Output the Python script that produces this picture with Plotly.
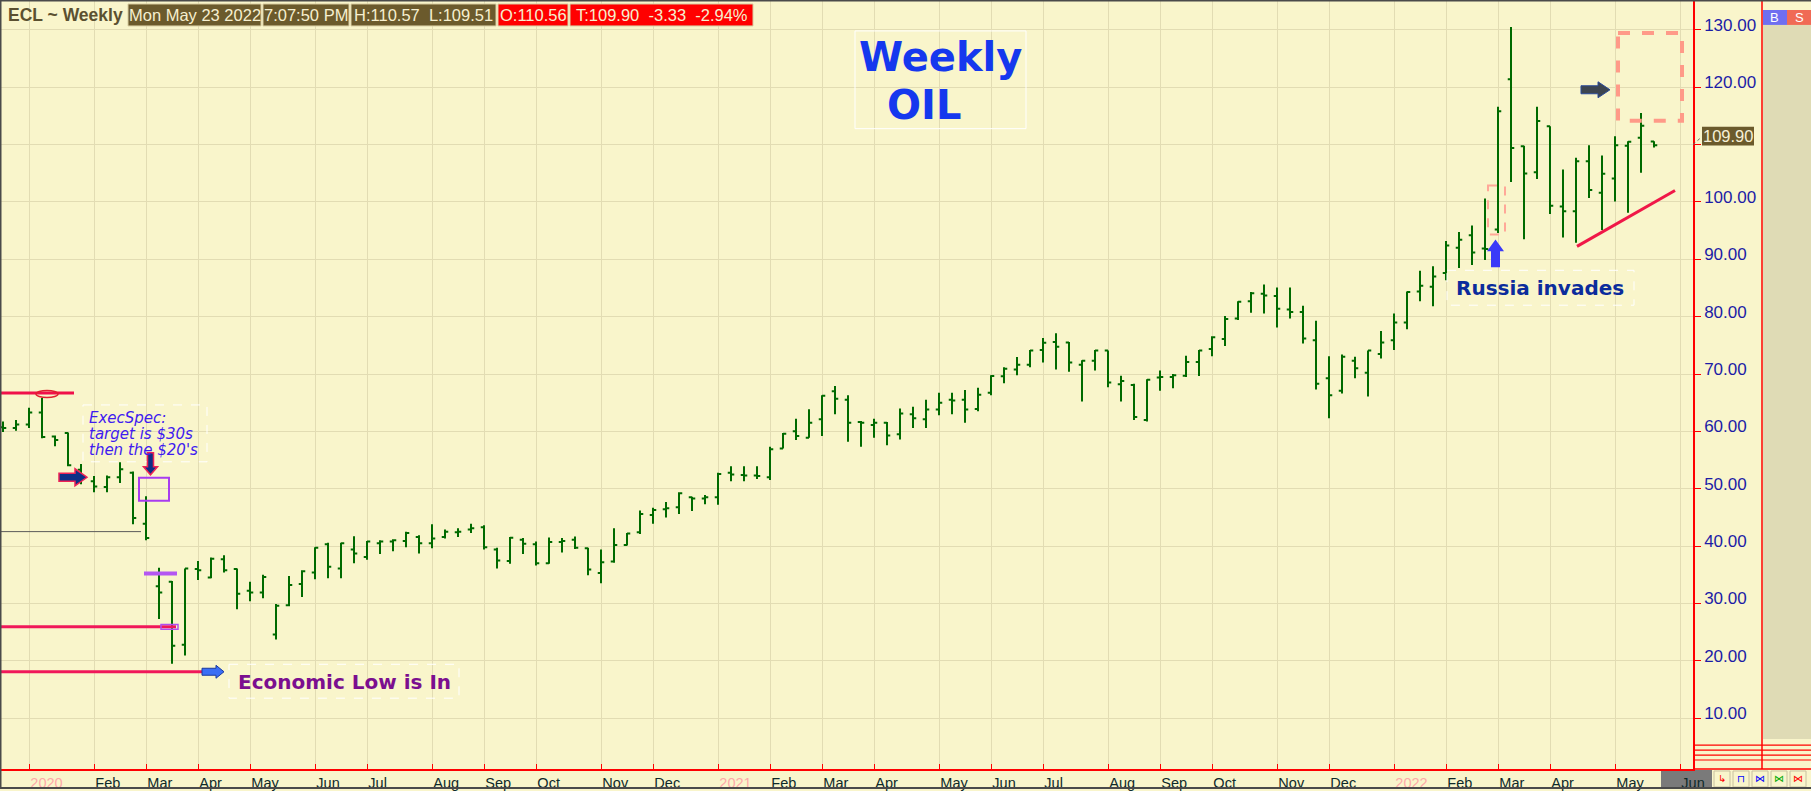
import plotly.graph_objects as go
import pandas as pd

# ---------------- data (weekly bars, week-ending Friday) ----------------
week_ending = pd.date_range("2019-12-20", periods=128, freq="W-FRI")

opens = [60.7, 60.6, 61.2, 63.3, 59.1, 59.7, 53.3, 51.3, 50.3, 52.0,
         52.8, 43.9, 33.0, 33.8, 22.8, 36.0, 34.5, 37.7, 36.0, 32.2,
         31.9, 24.6, 29.7, 33.4, 35.4, 40.3, 36.1, 39.4, 38.1, 40.5,
         40.8, 40.9, 41.6, 40.5, 41.6, 42.4, 42.9, 43.3, 39.4, 37.4,
         41.1, 40.3, 37.0, 40.7, 41.1, 39.6, 35.3, 37.3, 40.2, 42.4,
         45.4, 46.4, 46.75, 48.5, 48.3, 48.5, 52.8, 52.4, 52.3, 52.0,
         57.0, 60.0, 58.9, 62.1, 67.0, 65.5, 61.65, 61.1, 61.5, 59.5,
         63.0, 62.1, 63.8, 65.5, 65.5, 63.9, 66.75, 69.6, 70.8, 71.6,
         74.2, 75.6, 75.5, 71.6, 72.3, 74.1, 68.2, 68.1, 62.0, 69.4,
         69.5, 69.7, 72.1, 74.35, 76.1, 79.7, 82.7, 84.0, 83.6, 81.25,
         80.8, 75.9, 69.25, 67.1, 72.3, 70.2, 73.5, 75.9, 79.0, 84.4,
         85.2, 87.6, 92.0, 94.2, 91.9, 95.2, 121.4, 109.7, 105.2, 113.2,
         99.2, 98.4, 107.1, 101.6, 104.1, 109.8, 111.2, 110.56]

highs = [61.7, 62.0, 64.1, 65.8, 59.3, 59.8, 54.3, 52.2, 52.3, 54.6,
         53.0, 48.7, 36.2, 33.9, 36.1, 37.4, 38.0, 38.4, 36.1, 33.8,
         35.0, 29.9, 34.8, 35.8, 39.8, 40.6, 40.6, 41.7, 40.9, 41.0,
         41.2, 42.5, 41.9, 43.8, 42.9, 43.1, 43.9, 43.65, 39.7, 41.6,
         41.4, 40.8, 41.5, 41.4, 41.65, 39.7, 39.4, 43.1, 42.3, 46.2,
         46.7, 47.7, 49.4, 48.6, 48.9, 52.8, 53.9, 53.9, 53.9, 57.3,
         59.7, 62.2, 63.85, 66.3, 67.9, 66.3, 61.8, 62.2, 61.65, 64.0,
         64.3, 65.5, 66.75, 66.75, 67.2, 67.6, 69.8, 71.2, 72.95, 74.2,
         76.3, 77.1, 75.6, 72.4, 74.2, 74.1, 69.7, 68.3, 69.1, 70.6,
         70.0, 73.2, 74.2, 76.6, 80.1, 82.7, 84.3, 85.6, 85.1, 85.1,
         81.9, 79.3, 73.1, 73.4, 73.0, 74.1, 77.5, 80.55, 84.4, 88.0,
         88.8, 93.2, 94.75, 95.9, 100.6, 116.6, 130.5, 109.8, 116.6, 113.2,
         105.65, 107.7, 109.9, 108.1, 111.45, 110.6, 115.5, 110.57]

lows = [59.9, 60.1, 60.6, 58.8, 57.4, 53.9, 50.8, 49.4, 49.4, 51.0,
        43.8, 41.0, 27.3, 19.5, 20.9, 34.1, 34.4, 35.4, 29.0, 30.4,
        30.9, 23.7, 29.5, 31.1, 34.2, 34.4, 34.4, 37.0, 37.6, 38.6,
        39.1, 39.8, 38.7, 39.6, 41.3, 41.6, 42.3, 39.4, 36.1, 36.9,
        38.6, 36.6, 36.9, 38.9, 39.5, 34.9, 33.5, 37.1, 40.1, 42.1,
        43.9, 45.0, 45.6, 46.1, 47.3, 47.2, 51.3, 51.3, 51.7, 51.5,
        57.0, 58.5, 58.9, 59.2, 63.0, 58.2, 57.3, 58.9, 57.6, 58.6,
        60.6, 60.6, 62.8, 63.0, 61.5, 63.5, 66.3, 68.4, 69.8, 71.2,
        72.0, 70.8, 70.4, 65.2, 70.6, 67.7, 65.2, 62.0, 61.7, 67.1,
        67.5, 69.5, 69.65, 73.1, 74.9, 79.4, 80.7, 80.55, 78.1, 79.7,
        75.3, 67.3, 62.3, 66.6, 69.25, 66.1, 72.7, 74.2, 77.8, 82.7,
        81.8, 86.35, 88.5, 89.0, 89.9, 94.6, 103.5, 93.5, 104.0, 97.9,
        93.8, 92.9, 100.7, 95.1, 100.1, 98.1, 105.1, 109.51]

closes = [60.6, 61.2, 63.3, 59.0, 58.5, 54.1, 51.9, 50.4, 52.0, 53.4,
          44.9, 41.4, 31.9, 22.6, 36.1, 35.8, 37.8, 35.8, 31.7, 31.9,
          34.6, 29.6, 33.2, 35.6, 39.7, 36.4, 40.5, 38.7, 40.8, 40.8,
          41.0, 42.3, 40.5, 41.3, 42.5, 42.5, 43.1, 39.8, 37.5, 41.45,
          40.4, 37.0, 40.7, 40.9, 39.7, 35.9, 37.2, 40.2, 42.2, 45.6,
          46.3, 46.6, 49.2, 48.3, 48.5, 52.55, 52.5, 52.3, 52.2, 56.9,
          59.6, 59.2, 61.5, 66.2, 65.7, 61.5, 61.5, 61.5, 59.3, 63.1,
          62.3, 63.8, 65.0, 65.4, 63.8, 66.4, 69.65, 70.9, 71.6, 74.1,
          75.45, 74.75, 72.0, 72.3, 74.1, 68.5, 68.8, 62.5, 69.0, 69.5,
          69.8, 72.1, 74.1, 76.4, 79.6, 82.6, 84.1, 83.7, 81.4, 80.8,
          76.2, 68.3, 66.3, 73.0, 71.0, 74.1, 75.5, 79.0, 84.3, 85.4,
          87.0, 92.4, 93.4, 91.2, 91.8, 115.8, 109.4, 104.95, 114.1, 99.35,
          98.4, 107.1, 102.1, 104.9, 109.9, 110.5, 113.3, 109.90]

month_tick_dates = ["2020-01-03", "2020-02-07", "2020-03-06", "2020-04-03", "2020-05-01",
                    "2020-06-05", "2020-07-03", "2020-08-07", "2020-09-04", "2020-10-02",
                    "2020-11-06", "2020-12-04", "2021-01-08", "2021-02-05", "2021-03-05",
                    "2021-04-02", "2021-05-07", "2021-06-04", "2021-07-02", "2021-08-06",
                    "2021-09-03", "2021-10-01", "2021-11-05", "2021-12-03", "2022-01-07",
                    "2022-02-04", "2022-03-04", "2022-04-01", "2022-05-06", "2022-06-10"]
month_tick_labels = ["2020", "Feb", "Mar", "Apr", "May", "Jun", "Jul", "Aug", "Sep", "Oct",
                     "Nov", "Dec", "2021", "Feb", "Mar", "Apr", "May", "Jun", "Jul", "Aug",
                     "Sep", "Oct", "Nov", "Dec", "2022", "Feb", "Mar", "Apr", "May", "Jun"]
price_ticks = [10, 20, 30, 40, 50, 60, 70, 80, 90, 100, 110, 120, 130]
price_tick_labels = ["%.2f" % v if v != 110 else "" for v in price_ticks]

# ---------------- layout geometry (pixels) ----------------
W, H = 1811, 791
PL, PR, PT, PB = 0, 1693, 1, 771


def px(x):
    return (x - PL) / (PR - PL)


def py(y):
    return (PB - y) / (PB - PT)


BG = "#f9f5cb"
GRID = "#e2dcb3"
SANS = "Liberation Sans, Arial, sans-serif"
VERD = "DejaVu Sans, Verdana, sans-serif"

t0 = pd.Timestamp("2020-01-03")
x_start = t0 + pd.Timedelta(days=(PL - 29) * 7 / 13)
x_end = t0 + pd.Timedelta(days=(PR - 29) * 7 / 13)

fig = go.Figure()
fig.add_trace(go.Ohlc(
    x=week_ending, open=opens, high=highs, low=lows, close=closes,
    increasing=dict(line=dict(color="#006a00", width=2)),
    decreasing=dict(line=dict(color="#006a00", width=2)),
    tickwidth=0.25, hoverinfo="skip", showlegend=False))

ticktext = []
for lab in month_tick_labels:
    if lab.isdigit():
        ticktext.append('<span style="color:#ffa8a8">%s</span>' % lab)
    else:
        ticktext.append(lab)

shapes = []
annos = []


def rect(x0, y0, x1, y1, line=None, fill=None, lw=1, dash="solid", layer="above"):
    shapes.append(dict(type="rect", xref="paper", yref="paper",
                       x0=px(x0), x1=px(x1), y0=py(y0), y1=py(y1),
                       line=dict(color=line or "rgba(0,0,0,0)", width=lw if line else 0, dash=dash),
                       fillcolor=fill or "rgba(0,0,0,0)", layer=layer))


def line(x0, y0, x1, y1, color, lw=1, dash="solid", layer="above"):
    shapes.append(dict(type="line", xref="paper", yref="paper",
                       x0=px(x0), x1=px(x1), y0=py(y0), y1=py(y1),
                       line=dict(color=color, width=lw, dash=dash), layer=layer))


def poly(pts, fill, color=None, lw=1):
    d = "M " + " L ".join("%f,%f" % (px(a), py(b)) for a, b in pts) + " Z"
    shapes.append(dict(type="path", xref="paper", yref="paper", path=d,
                       fillcolor=fill, line=dict(color=color or fill, width=lw if color else 0)))


def right_arrow(x0, x1, yc, bh, hh, hl, fill, color=None, lw=1):
    poly([(x0, yc - bh), (x1 - hl, yc - bh), (x1 - hl, yc - hh), (x1, yc),
          (x1 - hl, yc + hh), (x1 - hl, yc + bh), (x0, yc + bh)], fill, color, lw)


def vert_arrow(xc, ytail, ytip, bw, hw, hl, fill, color=None, lw=1):
    s = 1 if ytip > ytail else -1
    yb = ytip - s * hl
    poly([(xc - bw, ytail), (xc - bw, yb), (xc - hw, yb), (xc, ytip),
          (xc + hw, yb), (xc + bw, yb), (xc + bw, ytail)], fill, color, lw)


def text(x, y, s, size, color, family=VERD, xanchor="center", bold=False, italic=False):
    if bold:
        s = "<b>%s</b>" % s
    if italic:
        s = "<i>%s</i>" % s
    annos.append(dict(xref="paper", yref="paper", x=px(x), y=py(y), text=s, showarrow=False,
                      xanchor=xanchor, yanchor="middle",
                      font=dict(family=family, size=size, color=color)))


# ---- header ----
text(6, 15, "ECL ~ Weekly", 17.5, "#5b5030", family=SANS, xanchor="left", bold=True)
header = [(128, 261, "Mon May 23 2022", "#6b5a2c"), (263, 349, "7:07:50 PM", "#6b5a2c"),
          (351, 496, "H:110.57&nbsp;&nbsp;L:109.51", "#6b5a2c"), (498, 568, "O:110.56", "#ff0000"),
          (570, 753, "T:109.90&nbsp;&nbsp;-3.33&nbsp;&nbsp;-2.94%", "#ff0000")]
for a, b, s, c in header:
    rect(a, 4, b, 26, line="#d8cca0", fill=c, lw=1)
    text((a + b) / 2, 15.5, s, 16.5, "#f6efcf", family=SANS)

# ---- title box ----
rect(855, 31, 1026, 129, line="#ffffff", lw=1)
text(940, 57, "Weekly", 40, "#1538ee", bold=True)
text(924, 105, "OIL", 40, "#1538ee", bold=True)

# ---- left annotations ----
line(0, 394, 74, 394, "#f0104a", 3)
shapes.append(dict(type="circle", xref="paper", yref="paper", x0=px(36), x1=px(58),
                   y0=py(391.5), y1=py(398.5), line=dict(color="#e02030", width=1.5)))
rect(83, 406, 207, 463, line="#ffffff", lw=1, dash="dash")
text(87, 419, "ExecSpec:", 15, "#3f1cf0", xanchor="left", italic=True)
text(87, 435, "target is $30s", 15, "#3f1cf0", xanchor="left", italic=True)
text(87, 451, "then the $20's", 15, "#3f1cf0", xanchor="left", italic=True)
right_arrow(59, 87, 478.5, 4, 8.5, 12, "#0c2f86", "#ee2255", 1.5)
vert_arrow(150.5, 454, 476, 3, 7, 8, "#0c2f86", "#ee2255", 1.5)
rect(139, 479, 169, 502, line="#a83cf0", lw=2)
line(0, 533, 141, 533, "#5a5a5a", 1)
line(144, 575, 177, 575, "#b456f2", 4)
line(0, 628.5, 176, 628.5, "#f0185a", 3)
rect(161, 626, 178, 631, line="#b050f0", lw=1.5)
line(0, 673.5, 202, 673.5, "#f0185a", 3)
right_arrow(202, 224, 673.5, 3.5, 6.5, 8, "#3a6ef5", "#1a3aa0", 1)
rect(229, 666, 459, 700, line="#ffffff", lw=1, dash="dash")
text(344, 684, "Economic Low is In", 20, "#7b0f8f", bold=True)

# ---- right annotations ----
rect(1488, 186, 1505, 235, line="#ffa898", lw=2, dash="dash")
vert_arrow(1495.5, 268, 240, 4.5, 8.5, 12, "#3a3af8")
rect(1447, 271, 1634, 306, line="#ffffff", lw=1, dash="dash")
text(1540, 289, "Russia invades", 20, "#0b2c9c", bold=True)
rect(1618, 33, 1682, 121, line="#ff9a88", lw=4, dash="dash")
right_arrow(1581, 1610, 90, 4, 8, 12, "#3d4550", "#2a4a9a", 1)
line(1577, 247, 1675, 191, "#f01848", 3)

# ---- last price label ----
line(1693, 145, 1702, 137, "#666666", 1, dash="dot")
rect(1702, 127, 1754, 146, fill="#6b5a2c")
text(1728, 136.5, "109.90", 16.5, "#f6f0d6", family=SANS)

# ---- right panel ----
line(1762, 0, 1762, 771, "#ff0000", 1.5)
rect(1763, 25, 1811, 741, fill="#dfdbb5")
rect(1763, 10, 1787, 25, fill="#6e6ef0")
rect(1787, 10, 1811, 25, fill="#f06a55")
text(1775, 17.5, "B", 13, "#ffffff", family=SANS)
text(1799, 17.5, "S", 13, "#ffffff", family=SANS)
for yy in (747, 752, 757, 762):
    line(1693, yy, 1811, yy, "#ff0000", 1.2)
line(1693, 771, 1811, 771, "#ff0000", 1.5)

# ---- bottom right widgets ----
rect(1661, 772, 1712, 791, fill="#7a7a7a", layer="below")
glyphs = [("↳", "#ff0000"), ("⊓", "#0000ff"), ("⋈", "#0000ff"), ("⋈", "#00aa00"), ("⋈", "#ff0000")]
for i, (g, c) in enumerate(glyphs):
    x0 = 1714 + 19 * i
    rect(x0, 773, x0 + 16, 789, line="#c8c0a0", lw=1)
    text(x0 + 8, 781, g, 10, c, family="DejaVu Sans, sans-serif")

# ---- outer frame ----
line(0, 0.5, 1811, 0.5, "#4a4a4a", 2)
line(0.5, 0, 0.5, 791, "#4a4a4a", 2)
line(0, 790, 1811, 790, "#4a4a4a", 2)

fig.update_layout(
    width=W, height=H,
    margin=dict(l=PL, r=W - PR, t=PT, b=H - PB, pad=0),
    paper_bgcolor=BG, plot_bgcolor=BG, showlegend=False,
    xaxis=dict(type="date", range=[x_start, x_end], rangeslider=dict(visible=False),
               tickmode="array", tickvals=month_tick_dates, ticktext=ticktext,
               ticks="inside", ticklen=5, tickcolor="#ff0000", tickwidth=1.2,
               ticklabelposition="outside right",
               showline=True, linecolor="#ff0000", linewidth=1.5,
               showgrid=True, gridcolor=GRID, gridwidth=1.3, zeroline=False,
               tickfont=dict(family=SANS, size=14.5, color="#0e2a2a")),
    yaxis=dict(side="right", range=[1.13, 135.04],
               tickmode="array", tickvals=price_ticks, ticktext=price_tick_labels,
               ticks="outside", ticklen=6, tickcolor="#ff0000", tickwidth=1.2,
               ticklabelshift=-5,
               showline=True, linecolor="#ff0000", linewidth=1.5,
               showgrid=True, gridcolor=GRID, gridwidth=1.3, zeroline=False,
               tickfont=dict(family=SANS, size=17, color="#1c1ca6")),
    shapes=shapes, annotations=annos,
)

fig.write_html("out.html", config={"displayModeBar": False},
               post_script="document.body.style.margin='0';document.body.style.padding='0';"
                           "document.body.style.overflow='hidden';")
